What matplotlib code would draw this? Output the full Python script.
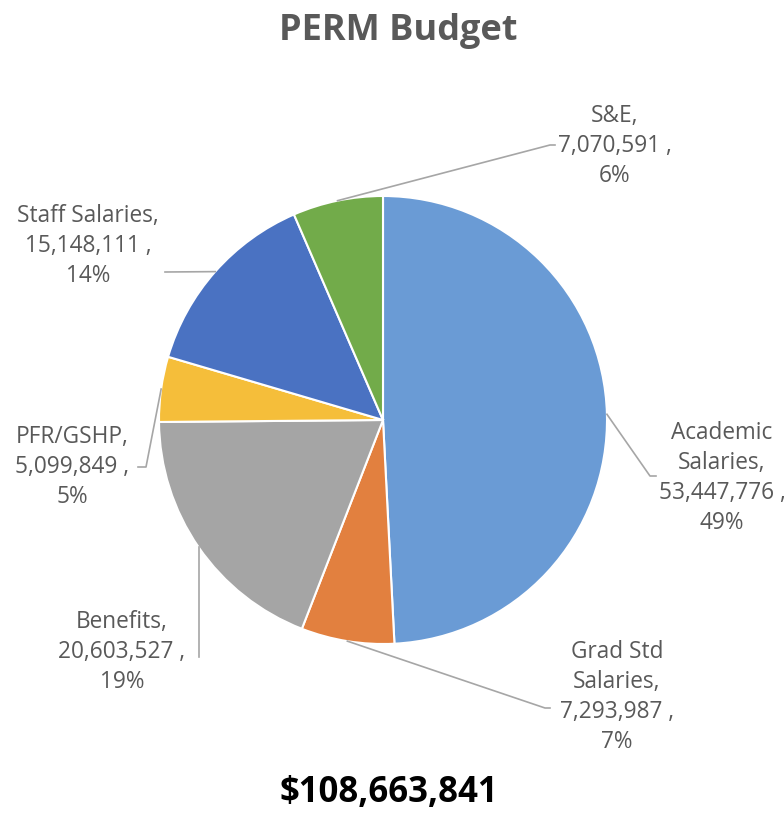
import numpy as np
import matplotlib
matplotlib.use("Agg")
import matplotlib.pyplot as plt

# ---- data ----
categories = ["Academic\nSalaries", "Grad Std\nSalaries", "Benefits", "PFR/GSHP", "Staff Salaries", "S&E"]
values = [53447776, 7293987, 20603527, 5099849, 15148111, 7070591]
percents = ["49%", "7%", "19%", "5%", "14%", "6%"]
title = "PERM Budget"
total_label = "$108,663,841"

colors = ["#6A9BD5", "#E2803F", "#A5A5A5", "#F5BE3A", "#4A72C2", "#72AB4A"]

W, H = 784, 815
fig = plt.figure(figsize=(W / 100, H / 100), dpi=100)
ax = fig.add_axes([0, 0, 1, 1])
ax.set_xlim(0, W)
ax.set_ylim(0, H)
ax.set_aspect("equal")
ax.axis("off")

cx, cy, R = 383, H - 420, 224
wedges, _ = ax.pie(values, colors=colors, startangle=90, counterclock=False,
                   center=(cx, cy), radius=R, frame=True,
                   wedgeprops=dict(edgecolor="white", linewidth=1.5))
ax.set_xlim(0, W)
ax.set_ylim(0, H)
ax.axis("off")

FONT = "Open Sans"
txt_color = "#595959"
line_color = "#A6A6A6"

# label layout (pixel positions, top-left origin): text centre, leader end point, stub end
layout = [
    dict(text=(722, 478), end=(650, 476), stub=(656, 476)),
    dict(text=(617, 697), end=(545, 708), stub=(550, 708)),
    dict(text=(122, 652), end=(199, 657), stub=None),
    dict(text=(72, 467), end=(146, 467), stub=(138, 467)),
    dict(text=(88, 246), end=(165, 272), stub=None),
    dict(text=(615, 146), end=(550, 145), stub=(555, 145)),
]

for w, cat, v, p, lay in zip(wedges, categories, values, percents, layout):
    mid = np.deg2rad((w.theta1 + w.theta2) / 2)
    sx = cx + R * np.cos(mid)
    sy = cy + R * np.sin(mid)
    ex, ey = lay["end"][0], H - lay["end"][1]
    if cat == "Benefits":
        ax.plot([ex, ex], [cy + R * np.sin(mid), ey], color=line_color, lw=1.2)
    else:
        xs, ys = [sx, ex], [sy, ey]
        if lay["stub"] is not None:
            xs.append(lay["stub"][0]); ys.append(H - lay["stub"][1])
        ax.plot(xs, ys, color=line_color, lw=1.2)
    label = f"{cat},\n{v:,} ,\n{p}"
    tx, ty = lay["text"]
    ax.text(tx, H - ty, label, ha="center", va="center", fontsize=16.3,
            family=FONT, color=txt_color, linespacing=1.33)

fig.text(398 / W, 1 - 31 / H, title, ha="center", va="center", fontsize=26,
         fontweight="bold", family=FONT, color="#595959")
fig.text(389 / W, 1 - 793 / H, total_label, ha="center", va="center", fontsize=25,
         fontweight="bold", family=FONT, color="black")

fig.savefig("out.png", dpi=100)
